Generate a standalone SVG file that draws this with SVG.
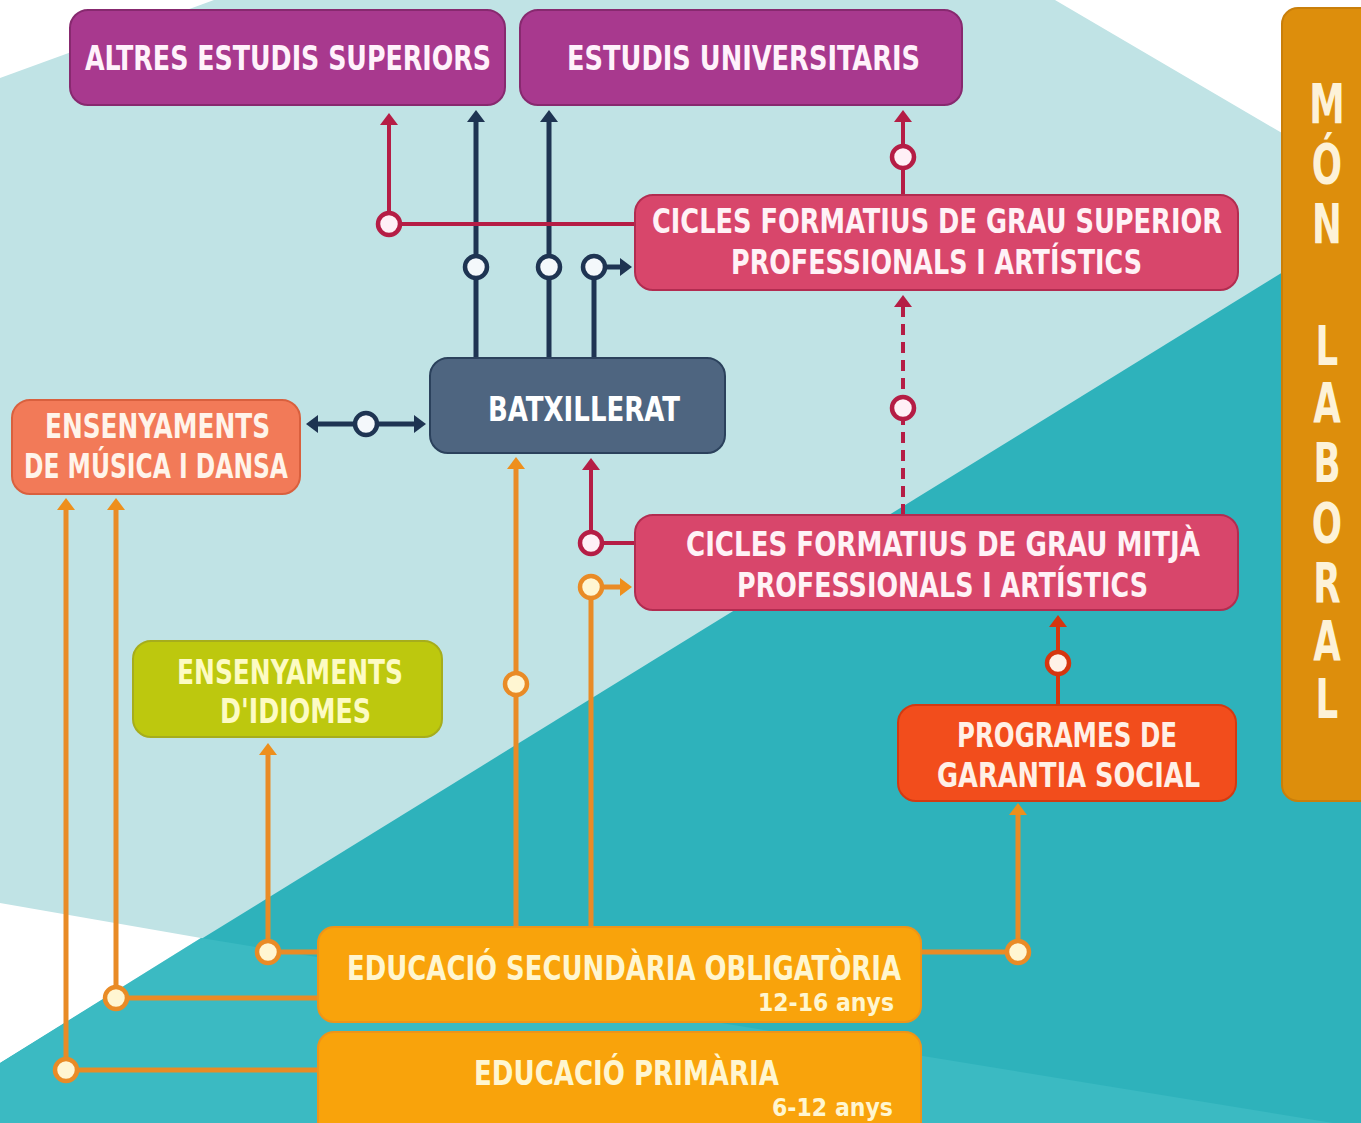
<svg xmlns="http://www.w3.org/2000/svg" width="1361" height="1123" viewBox="0 0 1361 1123">
<style>
.t{font-family:"DejaVu Sans Condensed","DejaVu Sans","Liberation Sans",sans-serif;font-weight:bold;font-size:33px;}
.s{font-family:"DejaVu Sans Condensed","DejaVu Sans","Liberation Sans",sans-serif;font-weight:bold;font-size:25px;}
.bar{font-family:"DejaVu Sans Condensed","DejaVu Sans","Liberation Sans",sans-serif;font-weight:bold;font-size:55px;fill:#fdf2d8;text-anchor:middle;}
.ln{fill:none;stroke-width:5;}
.navy{stroke:#1e3452;}
.crim{stroke:#b51d45;}
.ora{stroke:#e98b26;}
.rora{stroke:#d6360f;}
.thin{stroke-width:4;}
.c{stroke-width:4.5;}
</style>
<defs>
<marker id="mNavy" viewBox="0 0 12 18" markerWidth="12" markerHeight="18" refX="4" refY="9" orient="auto-start-reverse" markerUnits="userSpaceOnUse"><path d="M0,0 L12,9 L0,18 z" fill="#1e3452"/></marker>
<marker id="mCrim" viewBox="0 0 12 18" markerWidth="12" markerHeight="18" refX="4" refY="9" orient="auto" markerUnits="userSpaceOnUse"><path d="M0,0 L12,9 L0,18 z" fill="#b51d45"/></marker>
<marker id="mOra" viewBox="0 0 12 18" markerWidth="12" markerHeight="18" refX="4" refY="9" orient="auto" markerUnits="userSpaceOnUse"><path d="M0,0 L12,9 L0,18 z" fill="#ee8f1c"/></marker>
<marker id="mRora" viewBox="0 0 12 18" markerWidth="12" markerHeight="18" refX="4" refY="9" orient="auto" markerUnits="userSpaceOnUse"><path d="M0,0 L12,9 L0,18 z" fill="#d6360f"/></marker>
</defs>

<g id="background">
<rect x="0" y="0" width="1361" height="1123" fill="#c0e3e5"/>
<polygon points="0,0 214,0 0,78" fill="#ffffff"/>
<polygon points="1055,0 1361,0 1361,270 1282,133" fill="#ffffff"/>
<polygon points="1361,224 1361,1123 0,1123 0,1063" fill="#2eb2bb"/>
<polygon points="0,903 201,938 0,1063" fill="#ffffff"/>
<polygon points="201,938 1333,1123 0,1123 0,1063" fill="#3bbac2"/>
</g>

<g id="connectors">
<path class="ln navy" d="M476,358 V118" marker-end="url(#mNavy)"/>
<path class="ln navy" d="M549,358 V118" marker-end="url(#mNavy)"/>
<path class="ln navy" d="M594,358 V267 H624" marker-end="url(#mNavy)"/>
<path class="ln navy" d="M314,424 H418" marker-start="url(#mNavy)" marker-end="url(#mNavy)"/>
<path class="ln crim thin" d="M635,224 H389 V121" marker-end="url(#mCrim)"/>
<path class="ln crim thin" d="M903,195 V118" marker-end="url(#mCrim)"/>
<path class="ln crim thin" d="M903,515 V303" stroke-dasharray="11 7" marker-end="url(#mCrim)"/>
<path class="ln crim thin" d="M635,543 H591 V466" marker-end="url(#mCrim)"/>
<path class="ln ora" d="M516,927 V465" marker-end="url(#mOra)"/>
<path class="ln ora" d="M591,927 V587 H624" marker-end="url(#mOra)"/>
<path class="ln ora" d="M318,952 H268 V751" marker-end="url(#mOra)"/>
<path class="ln ora" d="M318,998 H116 V506" marker-end="url(#mOra)"/>
<path class="ln ora" d="M318,1070 H66 V506" marker-end="url(#mOra)"/>
<path class="ln ora" d="M920,952 H1018 V811" marker-end="url(#mOra)"/>
<path class="ln rora thin" d="M1058,705 V623" marker-end="url(#mRora)"/>
<g fill="#f4f8fb" class="navy c">
<circle cx="476" cy="267" r="11"/>
<circle cx="549" cy="267" r="11"/>
<circle cx="594" cy="267" r="11"/>
<circle cx="366" cy="424" r="11"/>
</g>
<g fill="#fff0f6" class="crim c">
<circle cx="389" cy="224" r="11"/>
<circle cx="903" cy="157" r="11"/>
<circle cx="903" cy="408" r="11"/>
<circle cx="591" cy="543" r="11"/>
</g>
<g fill="#fff6d2" class="ora c">
<circle cx="516" cy="684" r="11"/>
<circle cx="591" cy="587" r="11"/>
<circle cx="268" cy="952" r="11"/>
<circle cx="116" cy="998" r="11"/>
<circle cx="66" cy="1070" r="11"/>
<circle cx="1018" cy="952" r="11"/>
</g>
<circle cx="1058" cy="663" r="11" fill="#fff2e8" class="rora c"/>
</g>

<g id="altres">
<rect x="70" y="10" width="435" height="95" rx="18" fill="#a8398e" stroke="#87296f" stroke-width="2"/>
<text class="t" x="85" y="70" textLength="406" lengthAdjust="spacingAndGlyphs" fill="#fff2fb">ALTRES ESTUDIS SUPERIORS</text>
</g>
<g id="universitaris">
<rect x="520" y="10" width="442" height="95" rx="18" fill="#a8398e" stroke="#87296f" stroke-width="2"/>
<text class="t" x="567" y="70" textLength="353" lengthAdjust="spacingAndGlyphs" fill="#fff2fb">ESTUDIS UNIVERSITARIS</text>
</g>
<g id="cicles-superior">
<rect x="635" y="195" width="603" height="95" rx="18" fill="#d8466b" stroke="#b22c50" stroke-width="2"/>
<text class="t" x="652" y="233" textLength="570" lengthAdjust="spacingAndGlyphs" fill="#fff2f6">CICLES FORMATIUS DE GRAU SUPERIOR</text>
<text class="t" x="731" y="274" textLength="411" lengthAdjust="spacingAndGlyphs" fill="#fff2f6">PROFESSIONALS I ARTÍSTICS</text>
</g>
<g id="batxillerat">
<rect x="430" y="358" width="295" height="95" rx="18" fill="#4e6580" stroke="#2b415c" stroke-width="2"/>
<text class="t" x="488" y="421" textLength="192" lengthAdjust="spacingAndGlyphs" fill="#ffffff">BATXILLERAT</text>
</g>
<g id="musica-dansa">
<rect x="12" y="400" width="288" height="94" rx="18" fill="#f27a58" stroke="#d9603e" stroke-width="2"/>
<text class="t" x="45" y="438" textLength="225" lengthAdjust="spacingAndGlyphs" fill="#fff4ea">ENSENYAMENTS</text>
<text class="t" x="24" y="478" textLength="264" lengthAdjust="spacingAndGlyphs" fill="#fff4ea">DE MÚSICA I DANSA</text>
</g>
<g id="cicles-mitja">
<rect x="635" y="515" width="603" height="95" rx="18" fill="#d8466b" stroke="#b22c50" stroke-width="2"/>
<text class="t" x="686" y="556" textLength="514" lengthAdjust="spacingAndGlyphs" fill="#fff2f6">CICLES FORMATIUS DE GRAU MITJÀ</text>
<text class="t" x="737" y="597" textLength="411" lengthAdjust="spacingAndGlyphs" fill="#fff2f6">PROFESSIONALS I ARTÍSTICS</text>
</g>
<g id="idiomes">
<rect x="133" y="641" width="309" height="96" rx="18" fill="#bdc80e" stroke="#a6ad1c" stroke-width="2"/>
<text class="t" x="177" y="684" textLength="226" lengthAdjust="spacingAndGlyphs" fill="#fdfbc4">ENSENYAMENTS</text>
<text class="t" x="220" y="723" textLength="151" lengthAdjust="spacingAndGlyphs" fill="#fdfbc4">D'IDIOMES</text>
</g>
<g id="garantia-social">
<rect x="898" y="705" width="338" height="96" rx="18" fill="#f24d1c" stroke="#d23a12" stroke-width="2"/>
<text class="t" x="957" y="747" textLength="220" lengthAdjust="spacingAndGlyphs" fill="#fff0e6">PROGRAMES DE</text>
<text class="t" x="937" y="787" textLength="263" lengthAdjust="spacingAndGlyphs" fill="#fff0e6">GARANTIA SOCIAL</text>
</g>
<g id="eso">
<rect x="318" y="927" width="603" height="95" rx="16" fill="#f9a30b" stroke="#ef9418" stroke-width="2"/>
<text class="t" x="347" y="980" textLength="554" lengthAdjust="spacingAndGlyphs" fill="#fff6d0">EDUCACIÓ SECUNDÀRIA OBLIGATÒRIA</text>
<text class="s" x="758" y="1011" textLength="136" lengthAdjust="spacingAndGlyphs" fill="#fff6d0">12-16 anys</text>
</g>
<g id="primaria">
<rect x="318" y="1032" width="603" height="115" rx="16" fill="#f9a30b" stroke="#ef9418" stroke-width="2"/>
<text class="t" x="474" y="1085" textLength="305" lengthAdjust="spacingAndGlyphs" fill="#fff6d0">EDUCACIÓ PRIMÀRIA</text>
<text class="s" x="772" y="1116" textLength="121" lengthAdjust="spacingAndGlyphs" fill="#fff6d0">6-12 anys</text>
</g>
<g id="mon-laboral">
<rect x="1282" y="8" width="100" height="793" rx="16" fill="#dd8e0c" stroke="#c97f0a" stroke-width="2"/>
<text class="bar" transform="scale(0.72,1)"><tspan x="1843" y="123">M</tspan><tspan x="1843" y="183">Ó</tspan><tspan x="1843" y="243">N</tspan><tspan x="1843" y="365">L</tspan><tspan x="1843" y="422">A</tspan><tspan x="1843" y="482">B</tspan><tspan x="1843" y="542">O</tspan><tspan x="1843" y="602">R</tspan><tspan x="1843" y="660">A</tspan><tspan x="1843" y="718">L</tspan></text>
</g>
</svg>
